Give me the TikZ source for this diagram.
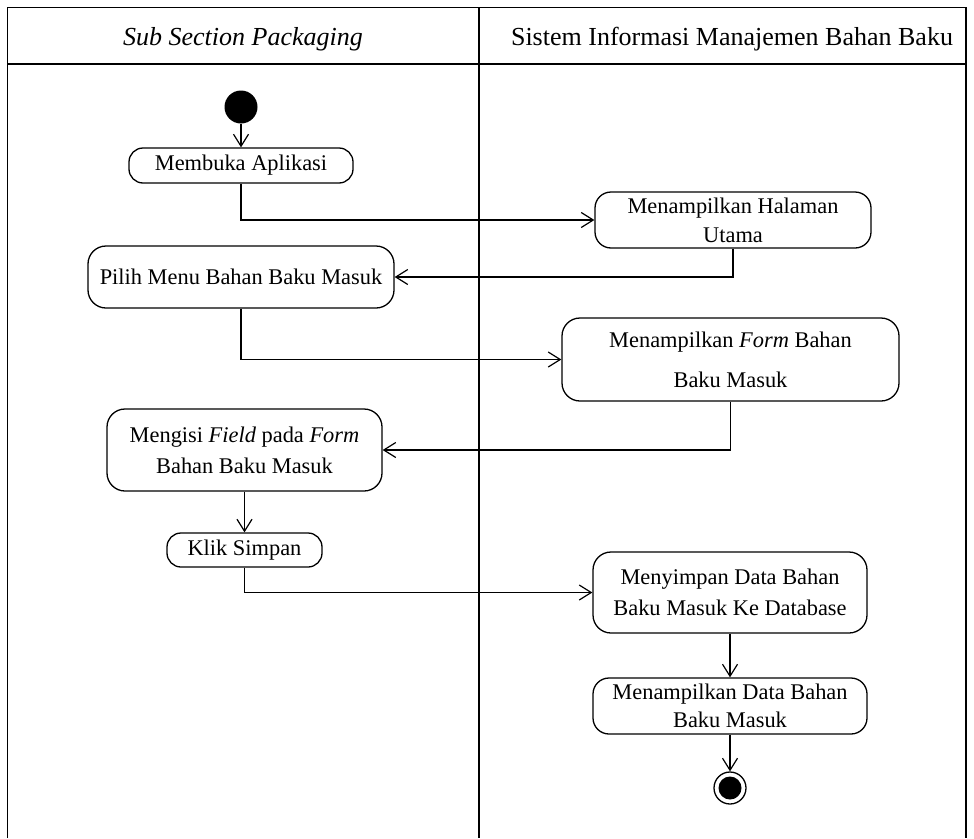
\documentclass[tikz,border=0pt]{standalone}
\usepackage{fontspec}
\setmainfont{Liberation Serif}
\usetikzlibrary{arrows.meta}

\tikzset{
  lane/.style={line width=1.3pt},
  act/.style={draw, line width=1.3pt, rounded corners=16pt, inner sep=0pt,
    align=center, font=\fontsize{22.4pt}{29pt}\selectfont},
  flow/.style={line width=1.2pt, -{Straight Barb[length=12pt,width=15pt,line width=1.2pt]}},
  lanehead/.style={anchor=base, inner sep=0pt, font=\fontsize{26pt}{30pt}\selectfont},
}

\begin{document}
\begin{tikzpicture}[x=1pt,y=-1pt]
\useasboundingbox (0,0) rectangle (974,838);

% swimlane frame
\draw[lane] (7.5,838) -- (7.5,7.5) -- (966,7.5) -- (966,838);
\draw[lane] (7.5,64) -- (966,64);
\draw[lane] (479,7.5) -- (479,838);
\node[lanehead] (h1) at (243,45) {\textit{Sub Section Packaging}};
\node[lanehead] (h2) at (732,45) {Sistem Informasi Manajemen Bahan Baku};

% initial node
\node[circle, fill=black, minimum size=33pt, inner sep=0pt] (start) at (241,107) {};

% actions
\node[act, rounded corners=14pt, minimum width=224pt, minimum height=35pt] (n1) at (241,165.5) {Membuka Aplikasi};
\node[act, minimum width=276pt, minimum height=56pt] (n2) at (733,220) {Menampilkan Halaman\\Utama};
\node[act, rounded corners=18pt, minimum width=306pt, minimum height=62pt] (n3) at (241,277) {Pilih Menu Bahan Baku Masuk};
\node[act, rounded corners=18pt, minimum width=337pt, minimum height=83pt] (n4) at (730.5,359.5) {Menampilkan \textit{Form} Bahan\\[11pt]Baku Masuk};
\node[act, rounded corners=18pt, minimum width=275pt, minimum height=82pt] (n5) at (244.5,450) {Mengisi \textit{Field} pada \textit{Form}\\[2pt]Bahan Baku Masuk};
\node[act, rounded corners=14pt, minimum width=155pt, minimum height=34pt] (n6) at (244.5,550) {Klik Simpan};
\node[act, rounded corners=18pt, minimum width=274pt, minimum height=81pt] (n7) at (730,592.5) {Menyimpan Data Bahan\\[2pt]Baku Masuk Ke Database};
\node[act, minimum width=274pt, minimum height=56pt] (n8) at (730,706) {Menampilkan Data Bahan\\[-1pt]Baku Masuk};

% final node
\node[circle, draw, line width=1.3pt, minimum size=32pt, inner sep=0pt] (end) at (730,788) {};
\fill (end.center) circle (11.5pt);

% control flow
\draw[flow] (start) -- (n1);
\draw[flow] (n1.south) |- (n2.west);
\draw[flow] (n2.south) |- (n3.east);
\draw[flow] (n3.south) |- (n4.west);
\draw[flow] (n4.south) |- (n5.east);
\draw[flow] (n5) -- (n6);
\draw[flow] (n6.south) |- (n7.west);
\draw[flow] (n7) -- (n8);
\draw[flow] (n8) -- (end);
\end{tikzpicture}
\end{document}
